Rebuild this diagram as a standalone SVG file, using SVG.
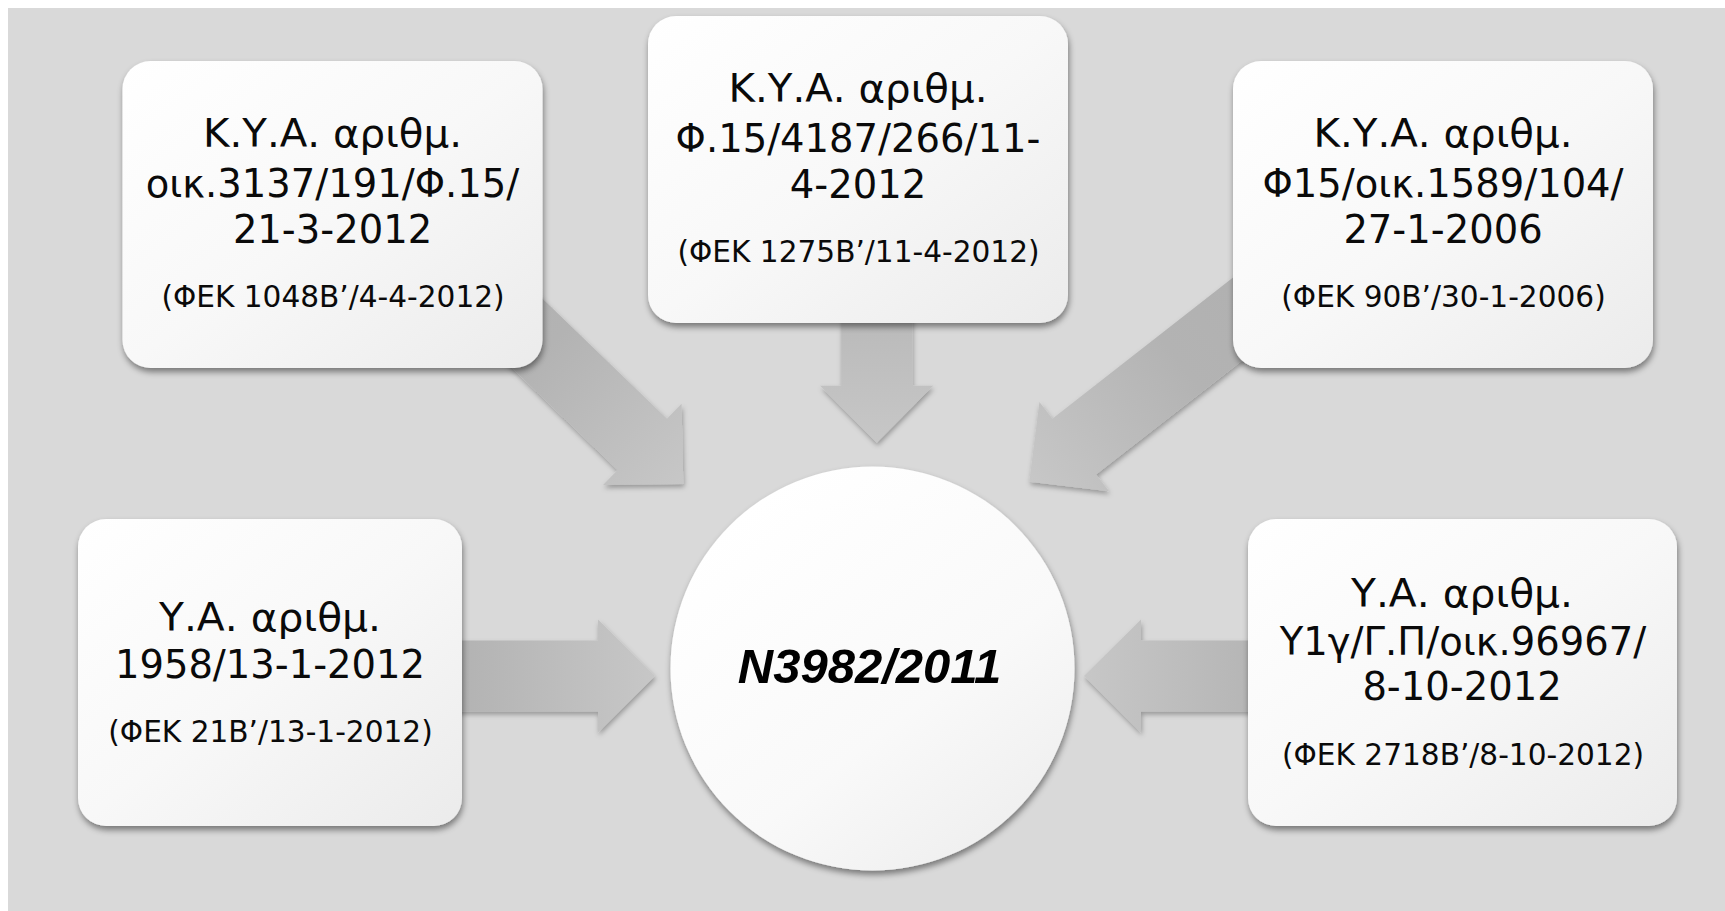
<svg xmlns="http://www.w3.org/2000/svg" xmlns:xlink="http://www.w3.org/1999/xlink" width="1725" height="911" viewBox="0 0 1725 911">
<style>
.t{font-family:"DejaVu Sans","Liberation Sans",sans-serif;font-size:38.5px;fill:#0a0a0a;text-anchor:middle}
.s{font-size:29.6px}
.c{font-family:"Liberation Sans",Arial,sans-serif;font-size:49px;font-weight:bold;font-style:italic;fill:#000;text-anchor:middle}
.box{fill:url(#boxFill)}
.arr{fill:url(#arrFill)}
</style>
<defs>
<linearGradient id="boxFill" x1="0" y1="0" x2="1" y2="1">
<stop offset="0" stop-color="#ffffff"/>
<stop offset="0.5" stop-color="#f8f8f8"/>
<stop offset="1" stop-color="#ebebeb"/>
</linearGradient>
<linearGradient id="circFill" x1="0.2" y1="0.1" x2="0.85" y2="0.95">
<stop offset="0" stop-color="#ffffff"/>
<stop offset="0.6" stop-color="#f9f9f9"/>
<stop offset="1" stop-color="#eeeeee"/>
</linearGradient>
<linearGradient id="arrFill" x1="0" y1="0" x2="1" y2="0">
<stop offset="0" stop-color="#b0b0b0"/>
<stop offset="0.4" stop-color="#b3b3b3"/>
<stop offset="1" stop-color="#c7c7c7"/>
</linearGradient>
<filter id="boxShadow" x="-10%" y="-10%" width="125%" height="130%">
<feDropShadow dx="1" dy="4" stdDeviation="3" flood-color="#000" flood-opacity="0.45"/>
</filter>
<filter id="arrShadow" x="-20%" y="-20%" width="140%" height="140%">
<feDropShadow dx="1" dy="3" stdDeviation="2.5" flood-color="#000" flood-opacity="0.3"/>
</filter>
<path id="arrow" d="M0,0 L-57,-56.5 L-57,-35.5 L-320,-35.5 L-320,35.5 L-57,35.5 L-57,56.5 Z"/>
</defs>

<rect x="0" y="0" width="1725" height="911" fill="#ffffff"/>
<rect x="8" y="8" width="1717" height="903" fill="#d9d9d9"/>

<g id="connectors">
<g filter="url(#arrShadow)"><use xlink:href="#arrow" class="arr" transform="translate(683.3,484) rotate(44)"/></g>
<g filter="url(#arrShadow)"><use xlink:href="#arrow" class="arr" transform="translate(876.7,442.7) rotate(90)"/></g>
<g filter="url(#arrShadow)"><use xlink:href="#arrow" class="arr" transform="translate(1029.3,481.7) rotate(142)"/></g>
<g filter="url(#arrShadow)"><use xlink:href="#arrow" class="arr" transform="translate(655,676) rotate(0)"/></g>
<g filter="url(#arrShadow)"><use xlink:href="#arrow" class="arr" transform="translate(1084,676) rotate(180)"/></g>
</g>

<g id="center">
<circle cx="872.5" cy="668.5" r="202" fill="url(#circFill)" filter="url(#boxShadow)"/>
<text class="c" x="869.5" y="683">N3982/2011</text>
</g>

<g id="box1">
<rect class="box" x="122.5" y="61" width="420" height="307" rx="28" filter="url(#boxShadow)"/>
<text class="t" x="332.5" y="147" textLength="259" lengthAdjust="spacingAndGlyphs">Κ.Υ.Α. αριθμ.</text>
<text class="t" x="332.5" y="197">οικ.3137/191/Φ.15/</text>
<text class="t" x="332.5" y="243">21-3-2012</text>
<text class="t s" x="333" y="307">(ΦΕΚ 1048Β’/4-4-2012)</text>
</g>

<g id="box2">
<rect class="box" x="648" y="16" width="420" height="307" rx="28" filter="url(#boxShadow)"/>
<text class="t" x="858" y="102" textLength="259" lengthAdjust="spacingAndGlyphs">Κ.Υ.Α. αριθμ.</text>
<text class="t" x="858" y="152">Φ.15/4187/266/11-</text>
<text class="t" x="858" y="198">4-2012</text>
<text class="t s" x="858.5" y="262">(ΦΕΚ 1275Β’/11-4-2012)</text>
</g>

<g id="box3">
<rect class="box" x="1233" y="61" width="420" height="307" rx="28" filter="url(#boxShadow)"/>
<text class="t" x="1443" y="147" textLength="259" lengthAdjust="spacingAndGlyphs">Κ.Υ.Α. αριθμ.</text>
<text class="t" x="1443" y="197">Φ15/οικ.1589/104/</text>
<text class="t" x="1443" y="243">27-1-2006</text>
<text class="t s" x="1443.5" y="307">(ΦΕΚ 90Β’/30-1-2006)</text>
</g>

<g id="box4">
<rect class="box" x="78" y="519" width="384" height="307" rx="28" filter="url(#boxShadow)"/>
<text class="t" x="270" y="631" textLength="222" lengthAdjust="spacingAndGlyphs">Υ.Α. αριθμ.</text>
<text class="t" x="270" y="678">1958/13-1-2012</text>
<text class="t s" x="270.5" y="742">(ΦΕΚ 21Β’/13-1-2012)</text>
</g>

<g id="box5">
<rect class="box" x="1248" y="519" width="429" height="307" rx="28" filter="url(#boxShadow)"/>
<text class="t" x="1462" y="607" textLength="222" lengthAdjust="spacingAndGlyphs">Υ.Α. αριθμ.</text>
<text class="t" x="1463" y="655">Υ1γ/Γ.Π/οικ.96967/</text>
<text class="t" x="1462" y="700">8-10-2012</text>
<text class="t s" x="1463" y="765">(ΦΕΚ 2718Β’/8-10-2012)</text>
</g>
</svg>
